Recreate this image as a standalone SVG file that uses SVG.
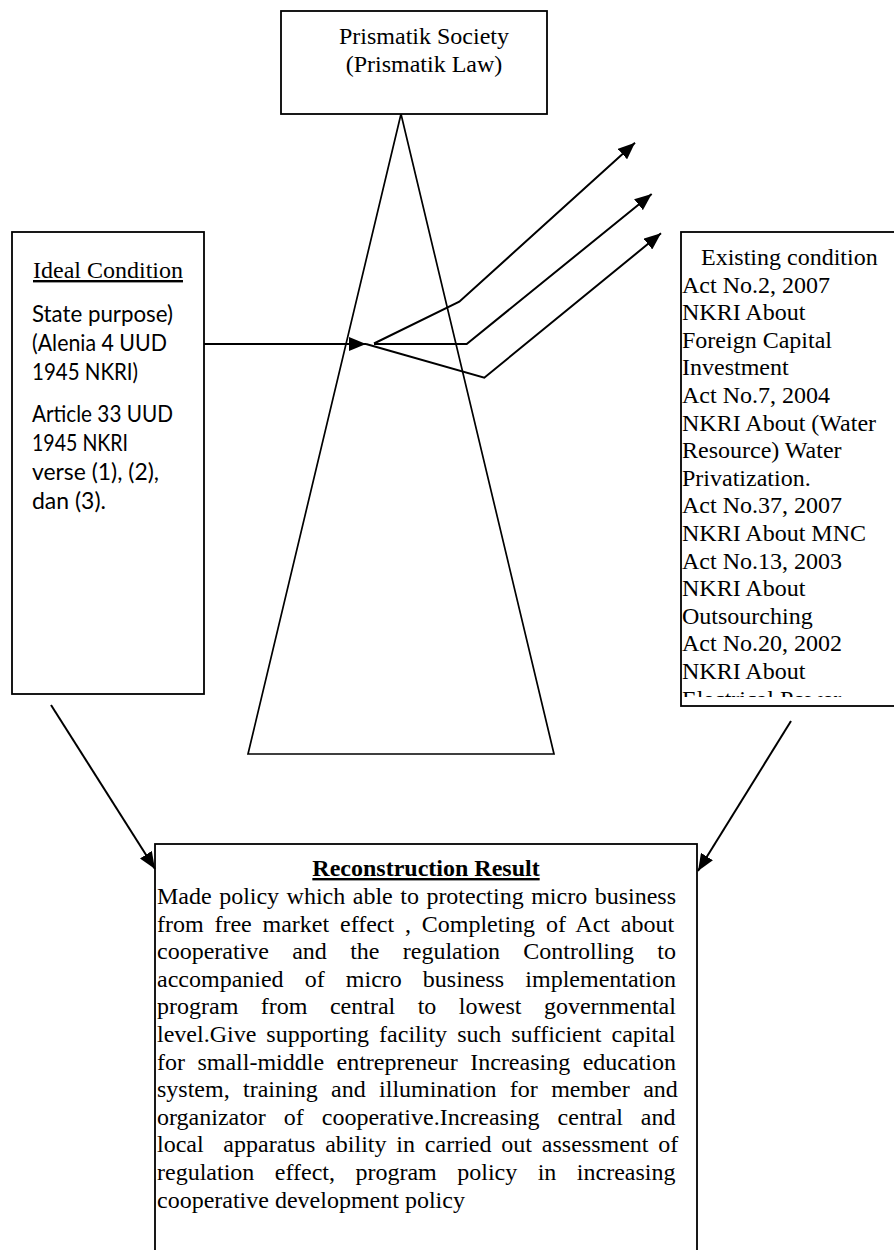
<svg xmlns="http://www.w3.org/2000/svg" width="894" height="1250" viewBox="0 0 894 1250">
<style>
.box{fill:#fff;stroke:#000;stroke-width:1.8}
.ser{font-family:"Liberation Serif","Times New Roman",serif;font-size:24px;fill:#000}
.san{font-family:Lato,"Open Sans",sans-serif;font-size:23px;fill:#000}
.ln{fill:none;stroke:#000;stroke-width:2}
.tri{fill:none;stroke:#000;stroke-width:1.7}
</style>
<defs>
<marker id="ah" markerUnits="userSpaceOnUse" markerWidth="18" markerHeight="14" refX="17" refY="7" orient="auto">
<path d="M0,0 L17,7 L0,14 z" fill="#000"/>
</marker>
<clipPath id="rclip"><rect x="681" y="232" width="220" height="465"/></clipPath>
</defs>
<rect width="894" height="1250" fill="#fff"/>

<g id="prism">
<polygon class="tri" points="401,114 248,754 554,754"/>
</g>

<g id="top-box">
<rect class="box" x="281" y="11" width="266" height="103"/>
<text class="ser" x="424" y="44" text-anchor="middle">Prismatik Society</text>
<text class="ser" x="424" y="71.6" text-anchor="middle">(Prismatik Law)</text>
</g>

<g id="ideal-condition">
<rect class="box" x="12" y="232" width="192" height="462"/>
<text class="ser" x="33" y="278" text-decoration="underline">Ideal Condition</text>
<text class="san" x="32" y="322" textLength="141" lengthAdjust="spacingAndGlyphs">State purpose)</text>
<text class="san" x="32" y="351" textLength="135" lengthAdjust="spacingAndGlyphs">(Alenia 4 UUD</text>
<text class="san" x="32" y="380" textLength="106" lengthAdjust="spacingAndGlyphs">1945 NKRI)</text>
<text class="san" x="32" y="421.5" textLength="141" lengthAdjust="spacingAndGlyphs">Article 33 UUD</text>
<text class="san" x="32" y="450.5" textLength="96" lengthAdjust="spacingAndGlyphs">1945 NKRI</text>
<text class="san" x="32" y="479.5" textLength="127" lengthAdjust="spacingAndGlyphs">verse (1), (2),</text>
<text class="san" x="32" y="508.5" textLength="74" lengthAdjust="spacingAndGlyphs">dan (3).</text>
</g>

<g id="existing-condition">
<rect class="box" x="681" y="232" width="220" height="474"/>
<g clip-path="url(#rclip)">
<text class="ser" x="701" y="265">Existing condition</text>
<text class="ser" x="682" y="292.6">Act No.2, 2007</text>
<text class="ser" x="682" y="320.2">NKRI About</text>
<text class="ser" x="682" y="347.8">Foreign Capital</text>
<text class="ser" x="682" y="375.4">Investment</text>
<text class="ser" x="682" y="403">Act No.7, 2004</text>
<text class="ser" x="682" y="430.6">NKRI About (Water</text>
<text class="ser" x="682" y="458.2">Resource) Water</text>
<text class="ser" x="682" y="485.8">Privatization.</text>
<text class="ser" x="682" y="513.4">Act No.37, 2007</text>
<text class="ser" x="682" y="541">NKRI About MNC</text>
<text class="ser" x="682" y="568.6">Act No.13, 2003</text>
<text class="ser" x="682" y="596.2">NKRI About</text>
<text class="ser" x="682" y="623.8">Outsourching</text>
<text class="ser" x="682" y="651.4">Act No.20, 2002</text>
<text class="ser" x="682" y="679">NKRI About</text>
<text class="ser" x="682" y="706.6">Electrical Power</text>
</g>
</g>

<g id="reconstruction-result">
<rect class="box" x="155" y="844" width="542" height="500"/>
<text class="ser" x="426" y="876" text-anchor="middle" font-weight="bold" text-decoration="underline">Reconstruction Result</text>
<text class="ser" x="157" y="904" style="word-spacing:1.49px">Made policy which able to protecting micro business</text>
<text class="ser" x="157" y="931.6" style="word-spacing:4.8px">from free market effect , Completing of Act about</text>
<text class="ser" x="157" y="959.2" style="word-spacing:17.28px">cooperative and the regulation Controlling to</text>
<text class="ser" x="157" y="986.8" style="word-spacing:15.1px">accompanied of micro business implementation</text>
<text class="ser" x="157" y="1014.4" style="word-spacing:16.48px">program from central to lowest governmental</text>
<text class="ser" x="157" y="1042" style="word-spacing:4.08px">level.Give supporting facility such sufficient capital</text>
<text class="ser" x="157" y="1069.6" style="word-spacing:6.45px">for small-middle entrepreneur Increasing education</text>
<text class="ser" x="157" y="1097.2" style="word-spacing:7.37px">system, training and illumination for member and</text>
<text class="ser" x="157" y="1124.8" style="word-spacing:11.95px">organizator of cooperative.Increasing central and</text>
<text class="ser" x="157" y="1152.4" xml:space="preserve" style="word-spacing:3.85px;white-space:pre">local  apparatus ability in carried out assessment of</text>
<text class="ser" x="157" y="1180" style="word-spacing:14.48px">regulation effect, program policy in increasing</text>
<text class="ser" x="157" y="1207.6">cooperative development policy</text>
</g>

<g id="connectors">
<line class="ln" x1="204" y1="344" x2="366" y2="344" stroke-width="2.4" marker-end="url(#ah)"/>
<polyline class="ln" points="374,343.5 459.3,301.7 635,142.7" marker-end="url(#ah)"/>
<polyline class="ln" points="374,344 466.7,344 651.7,194" marker-end="url(#ah)"/>
<polyline class="ln" points="366,344 484.3,377.7 661,233.3" marker-end="url(#ah)"/>
<line class="ln" x1="51" y1="705" x2="155" y2="869" marker-end="url(#ah)"/>
<line class="ln" x1="791" y1="721" x2="698" y2="871" marker-end="url(#ah)"/>
</g>
</svg>
